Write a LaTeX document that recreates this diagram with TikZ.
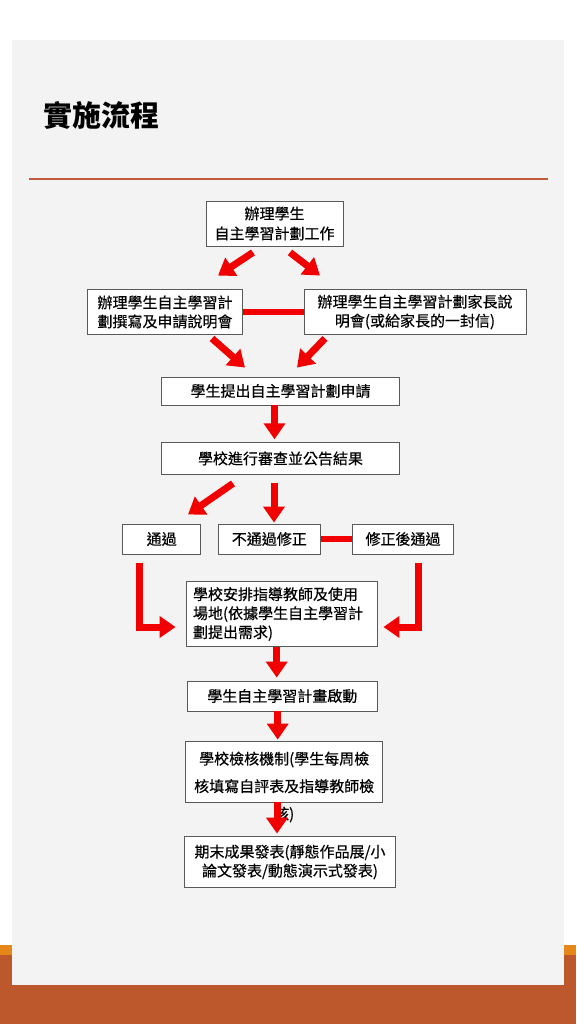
\documentclass[tikz,border=0pt]{standalone}
\usepackage{fontspec}
\setmainfont{Noto Sans CJK TC}
\newfontfamily\boxfont{Noto Sans CJK TC}[FakeBold=0.5]
\usepackage{tikz}
\usetikzlibrary{positioning,arrows.meta,calc}
\definecolor{slidegray}{HTML}{F3F3F3}
\definecolor{rust}{HTML}{BC582B}
\definecolor{amber}{HTML}{E6871A}
\definecolor{rulered}{HTML}{C25A3C}
\definecolor{flowred}{HTML}{F20000}
\tikzset{
  box/.style={draw=black!65,fill=white,line width=0.9pt,align=center,inner sep=0pt,font=\boxfont\fontsize{15}{19}\selectfont},
  arr/.style={draw=flowred,line width=7pt,line join=miter,-{Triangle[width=21pt,length=16pt]}},
  link/.style={draw=flowred,line width=6pt}
}

\begin{document}
\begin{tikzpicture}[x=1pt,y=-1pt]
\fill[white] (0,0) rectangle (576,1024);
\useasboundingbox (0,0) rectangle (576,1024);
\fill[amber] (0,945) rectangle (576,955);
\fill[rust] (0,955) rectangle (576,1024);
\fill[slidegray] (12,40) rectangle (564,985);
\node[anchor=west,inner sep=0pt,font=\fontsize{29}{34}\selectfont\bfseries] (title) at (43,115) {實施流程};
\draw[rulered,line width=2.5pt] (29,179) -- (548,179);

\node[box,minimum width=137pt,minimum height=45pt,font=\boxfont\fontsize{15}{20}\selectfont] (plan) at (274.5,223.5) {辦理學生\\自主學習計劃工作};
\node[box,minimum width=155.5pt,minimum height=45pt] (brief) at (165,312) {辦理學生自主學習計\\劃撰寫及申請說明會};
\node[box,minimum width=222pt,minimum height=45pt] (parent) at (415,312) {辦理學生自主學習計劃家長說\\明會(或給家長的一封信)};
\node[box,minimum width=237.5pt,minimum height=28pt] (apply) at (280.5,391) {學生提出自主學習計劃申請};
\node[box,minimum width=237.5pt,minimum height=31.5pt] (review) at (280.5,458.5) {學校進行審查並公告結果};
\node[box,minimum width=78pt,minimum height=30pt] (pass) at (161.7,539) {通過};
\node[box,minimum width=102pt,minimum height=30pt] (fail) at (269.3,539) {不通過修正};
\node[box,minimum width=101.5pt,minimum height=30pt] (revised) at (403,539) {修正後通過};
\node[box,text width=177pt,align=left,inner xsep=7pt,minimum height=64.5pt] (arrange) at (281.5,614) {學校安排指導教師及使用\\場地(依據學生自主學習計\\劃提出需求)};
\node[box,minimum width=190pt,minimum height=30pt] (launch) at (282.3,696) {學生自主學習計畫啟動};
\node[box,minimum width=197pt,minimum height=61pt] (check) at (284.2,771.5) {};
\node[align=center,inner sep=0pt,font=\boxfont\fontsize{15}{27.5}\selectfont] (checktext) at (284.2,787) {學校檢核機制(學生每周檢\\核填寫自評表及指導教師檢\\核)};
\node[box,minimum width=211.5pt,minimum height=51pt] (final) at (290,862) {期末成果發表(靜態作品展/小\\論文發表/動態演示式發表)};

\draw[arr] ($(plan.south)+(-21.5,6)$) -- ($(brief.north)+(53,-13.5)$);
\draw[arr] ($(plan.south)+(15.5,6)$) -- ($(parent.north)+(-95,-13.5)$);
\draw[link] (brief) -- (parent);
\draw[arr] ($(brief.south)+(47,3.5)$) -- ($(apply.north)+(-35.5,-9)$);
\draw[arr] ($(parent.south)+(-90,3.5)$) -- ($(apply.north)+(16.5,-9)$);
\draw[arr] ($(apply.south)+(-6,0)$) -- ($(review.north)+(-6,-3)$);
\draw[arr] ($(review.south)+(-47.5,8.75)$) -- ($(pass.north)+(26.3,-9)$);
\draw[arr] ($(review.south)+(-6.5,8.75)$) -- ($(fail.north)+(4.7,-1)$);
\draw[link] (fail) -- (revised);
\draw[arr] ($(pass.south)+(-22.2,9)$) |- ($(arrange.west)+(-10,13)$);
\draw[arr] ($(revised.south)+(15.3,9)$) |- ($(arrange.east)+(6,13)$);
\draw[arr] ($(arrange.south)+(-4.8,0)$) -- ($(launch.north)+(-5.6,-3)$);
\draw[arr] ($(launch.south)+(-4.6,0)$) -- ($(check.north)+(-6.5,-1)$);
\draw[arr] ($(check.south)+(-7.2,0)$) -- ($(final.north)+(-13,-2.5)$);
\end{tikzpicture}
\end{document}
